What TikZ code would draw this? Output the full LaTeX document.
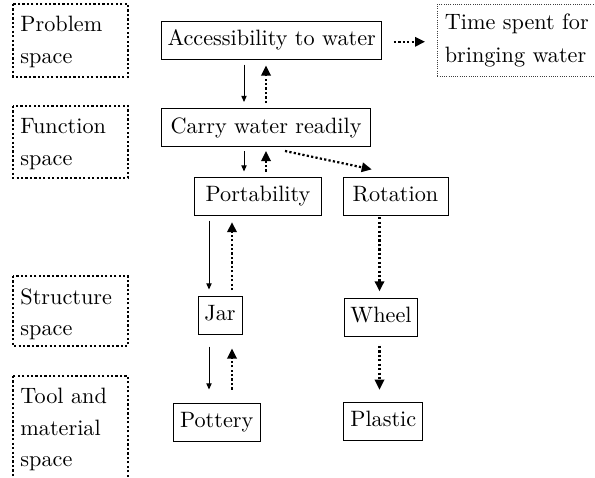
\documentclass[tikz,border=0pt]{standalone}
\usetikzlibrary{arrows.meta,calc}
\begin{document}
\begin{tikzpicture}[x=0.45pt,y=-0.45pt,
  every node/.style={font=\fontsize{10pt}{14.2pt}\selectfont},
  concept/.style={draw, line width=0.45pt, inner xsep=2.5pt, minimum height=17.1pt,
                  text height=7pt, text depth=2pt},
  spacebox/.style={draw, line width=1pt, dash pattern=on 1pt off 1pt},
  spacetext/.style={anchor=north west, inner sep=0pt, align=left},
  effectbox/.style={draw=black!75, line width=0.4pt, dash pattern=on 0.4pt off 0.6pt,
                    anchor=north west, align=left, inner xsep=3.3pt},
  fwd/.style={line width=0.45pt, -{Triangle[length=2.8pt,width=2.4pt]}},
  back/.style={line width=1pt, dash pattern=on 1pt off 1pt,
               -{Triangle[length=4.5pt,width=4.2pt]}},
]
\clip (0,0) rectangle (595,477);

% Design spaces (left column)
\draw[spacebox] (13,4) rectangle (128,77);
\node[spacetext] (problem) at (20,16) {Problem\\space};
\draw[spacebox] (13,106) rectangle (128,178);
\node[spacetext] (function) at (20,118) {Function\\space};
\draw[spacebox] (13,276) rectangle (128,346);
\node[spacetext] (structure) at (20,288) {Structure\\space};
\draw[spacebox] (13,376) rectangle (128,500);
\node[spacetext] (tool) at (20,388) {Tool and\\material\\space};

% Concepts
\node[concept, minimum width=98.1pt] (acc) at (271.7,40) {Accessibility to water};
\node[effectbox, minimum width=70.6pt, minimum height=32.4pt,
      font=\fontsize{10pt}{14.8pt}\selectfont] (time) at (437,4)
  {Time spent for\\bringing water};
\node[concept, minimum width=94pt] (carry) at (266,127.5) {Carry water readily};
\node[concept, minimum width=57pt] (port) at (258,196) {Portability};
\node[concept, minimum width=47.25pt] (rot) at (395.5,196) {Rotation};
\node[concept, minimum width=19.8pt] (jar) at (220,315) {Jar};
\node[concept, minimum width=33.2pt] (wheel) at (381,317) {Wheel};
\node[concept, minimum width=39pt] (pottery) at (216.7,422) {Pottery};
\node[concept, minimum width=35.4pt] (plastic) at (383.3,421) {Plastic};

% Connector columns
\coordinate (ca) at (244,0);
\coordinate (cb) at (266,0);
\coordinate (cc) at (285,0);
\coordinate (da) at (209,0);
\coordinate (db) at (232,0);
\coordinate (ea) at (379.5,0);

% Connectors
\draw[back] ([xshift=5.4pt,yshift=-0.8pt]acc.east) -- ([xshift=-5.4pt,yshift=-0.8pt]acc.east -| time.west);
\draw[fwd] ([yshift=-2.25pt]acc.south -| ca) -- ([yshift=2.7pt]carry.north -| ca);
\draw[back] ([yshift=2.25pt]carry.north -| cb) -- ([yshift=-2.7pt]acc.south -| cb);
\draw[fwd] ([yshift=-1.8pt]carry.south -| ca) -- ([yshift=2.25pt]port.north -| ca);
\draw[back] ([yshift=2.25pt]port.north -| cb) -- ([yshift=-1.8pt]carry.south -| cb);
\draw[back] ([yshift=-1.8pt]carry.south -| cc) -- ([xshift=-10.7pt,yshift=3.2pt]rot.north);
\draw[fwd] ([yshift=-2.25pt]port.south -| da) -- ([yshift=2.7pt]jar.north -| da);
\draw[back] ([yshift=2.4pt]jar.north -| db) -- ([yshift=-3pt]port.south -| db);
\draw[back] ([yshift=-0.75pt]rot.south -| ea) -- ([yshift=2.8pt]wheel.north -| ea);
\draw[fwd] ([yshift=-5.4pt]jar.south -| da) -- ([yshift=5.85pt]pottery.north -| da);
\draw[back] ([yshift=5.85pt]pottery.north -| db) -- ([yshift=-6.3pt]jar.south -| db);
\draw[back] ([yshift=-4.2pt]wheel.south -| ea) -- ([yshift=5.3pt]plastic.north -| ea);
\end{tikzpicture}
\end{document}
